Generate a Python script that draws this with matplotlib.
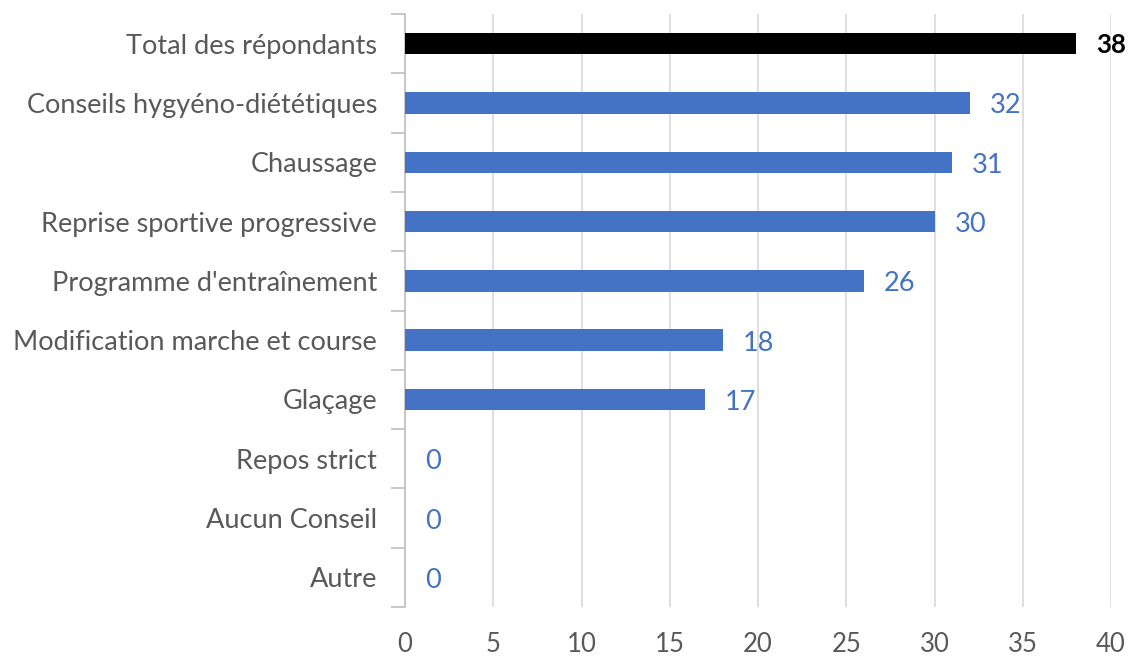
import matplotlib
matplotlib.use("Agg")
import matplotlib.pyplot as plt

categories = ["Total des répondants", "Conseils hygyéno-diététiques", "Chaussage",
              "Reprise sportive progressive", "Programme d'entraînement",
              "Modification marche et course", "Glaçage", "Repos strict",
              "Aucun Conseil", "Autre"]
values = [38, 32, 31, 30, 26, 18, 17, 0, 0, 0]
xticks = [0, 5, 10, 15, 20, 25, 30, 35, 40]

BLUE = "#4472C4"
GRAY = "#595959"
plt.rcParams['font.family'] = ['Lato', 'DejaVu Sans']
FS = 19.5

fig = plt.figure(figsize=(11.28, 6.57), dpi=100)
ax = fig.add_axes([405/1128, 1-607/657, (1111-405)/1128, (607-14)/657])

n = len(categories)
ypos = list(range(n))
colors = ["black"] + [BLUE] * (n - 1)
ax.barh(ypos, values, height=0.36, color=colors, zorder=3)
ax.set_ylim(n - 0.5, -0.5)
ax.set_xlim(0, 40)

ax.set_xticks(xticks)
ax.set_xticklabels([str(t) for t in xticks], fontsize=18.5, color=GRAY)
ax.grid(axis='x', color="#D9D9D9", linewidth=1.2, zorder=0)
ax.tick_params(axis='x', length=0, pad=18)

ax.set_yticks(ypos)
ax.set_yticklabels(categories, fontsize=FS, color=GRAY)
ax.tick_params(axis='y', length=0, pad=20)
ax.set_yticks([i - 0.5 for i in range(n + 1)], minor=True)
ax.tick_params(axis='y', which='minor', length=10, color="#BFBFBF", width=1.2)

for s in ["top", "right", "bottom"]:
    ax.spines[s].set_visible(False)
ax.spines["left"].set_color("#BFBFBF")
ax.spines["left"].set_linewidth(1.2)

for i, v in enumerate(values):
    if i == 0:
        ax.annotate(str(v), (v, i), xytext=(20, -1), textcoords="offset pixels",
                    va="center", ha="left", fontsize=FS - 1, color="black", fontweight="bold")
    else:
        ax.annotate(str(v), (v, i), xytext=(20, -3), textcoords="offset pixels",
                    va="center", ha="left", fontsize=FS, color=BLUE)

fig.savefig("out.png", dpi=100)
